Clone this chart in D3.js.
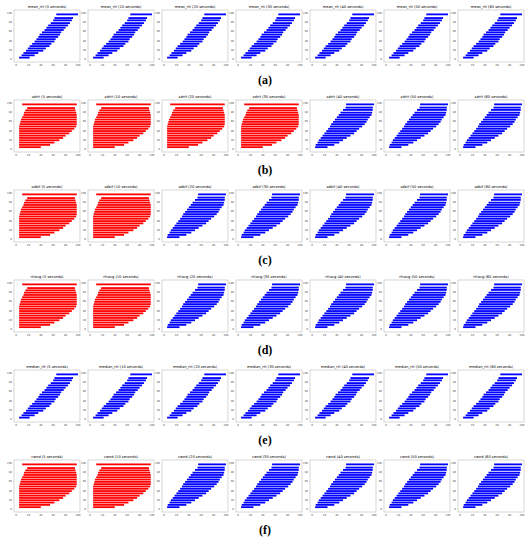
<!DOCTYPE html>
<html>
<head>
<meta charset="utf-8">
<script src="https://cdn.jsdelivr.net/npm/d3@7"></script>
<style>body{margin:0;background:#fff;font-family:"Liberation Serif",serif;}</style>
</head>
<body>
<div id="chart"></div>
<script>
// row metrics and time windows
const metrics = ["mean_rtt", "sdrtt", "sdbif", "rttavg", "median_rtt", "cwnd"];
const rowLabels = ["(a)", "(b)", "(c)", "(d)", "(e)", "(f)"];
const windows = [5, 10, 20, 30, 40, 50, 60];
// how many leading panels are red in each row
const redCount = [0, 4, 2, 2, 0, 2];
// scatter patterns, streaks as [y, xStart, xEnd] (0-100 scale)
const diagStreaks = [[3,5,22],[8,9,30],[13,12,36],[18,16,44],[23,19,48],[28,22,54],[33,26,57],[38,30,62],[43,33,64],[48,36,68],[53,38,71],[58,42,73],[63,46,77],[68,49,80],[73,52,84],[78,56,87],[84,60,90],[89,62,92],[97,65,100]];
const wideStreaks = [[4,5,40],[9,5,55],[14,5,62],[19,5,70],[24,5,76],[29,5,80],[34,5,86],[39,5,90],[44,5,94],[49,5,97],[54,6,98],[59,7,98],[64,8,98],[69,10,98],[74,12,98],[79,13,97],[84,15,96],[89,18,95],[97,10,98]];
const spreadStreaks = [[4,5,25],[9,6,36],[14,9,44],[19,11,50],[24,14,56],[29,17,62],[34,20,68],[39,23,72],[44,26,76],[49,29,81],[54,31,85],[59,34,88],[64,37,90],[69,40,93],[74,43,96],[79,46,97],[85,50,98],[90,54,98],[97,55,100]];
const rowPattern = ["diag", "spread", "spread", "spread", "diag", "spread"];
const yTicks = [0, 20, 40, 60, 80, 100];
const xTicks = [0, 20, 40, 60, 80, 100];

const svg = d3.select("#chart").append("svg").attr("width", 530).attr("height", 550);

const pw = 66, ph = 52;
const x = d3.scaleLinear().domain([0, 100]).range([2, pw - 2]);
const y = d3.scaleLinear().domain([0, 100]).range([ph - 3, 3]);

metrics.forEach((m, r) => {
    const top = 10 + r * 90;
    windows.forEach((w, c) => {
        const left = 14 + c * 74;
        const red = c < redCount[r];
        const streaks = red ? wideStreaks : (rowPattern[r] === "diag" ? diagStreaks : spreadStreaks);
        const g = svg.append("g").attr("transform", `translate(${left},${top})`);
        g.append("rect").attr("width", pw).attr("height", ph)
            .attr("fill", "#fff").attr("stroke", "#bbb").attr("stroke-width", 0.6);
        g.selectAll("rect.s").data(streaks).enter().append("rect")
            .attr("class", "s")
            .attr("x", d => x(d[1]))
            .attr("y", d => y(d[0]) - 0.9)
            .attr("width", d => x(d[2]) - x(d[1]))
            .attr("height", 1.8)
            .attr("fill", red ? "#ff0000" : "#0000ff");
        g.append("text").attr("x", pw / 2).attr("y", -2).attr("text-anchor", "middle")
            .attr("font-size", 3.6).attr("font-family", "DejaVu Sans").text(`${m} (${w} seconds)`);
        g.selectAll("text.yt").data(yTicks).enter().append("text")
            .attr("class", "yt").attr("x", -2).attr("y", d => y(d) + 1)
            .attr("text-anchor", "end").attr("font-size", 2.6).attr("fill", "#444")
            .attr("font-family", "DejaVu Sans").text(d => d);
        g.selectAll("text.xt").data(xTicks).enter().append("text")
            .attr("class", "xt").attr("x", d => x(d)).attr("y", ph + 4)
            .attr("text-anchor", "middle").attr("font-size", 2.6).attr("fill", "#444")
            .attr("font-family", "DejaVu Sans").text(d => d);
    });
    svg.append("text").attr("x", 265).attr("y", top + 74).attr("text-anchor", "middle")
        .attr("font-size", 12).attr("font-weight", "bold").attr("fill", "#000").text(rowLabels[r]);
});
</script>
</body>
</html>
